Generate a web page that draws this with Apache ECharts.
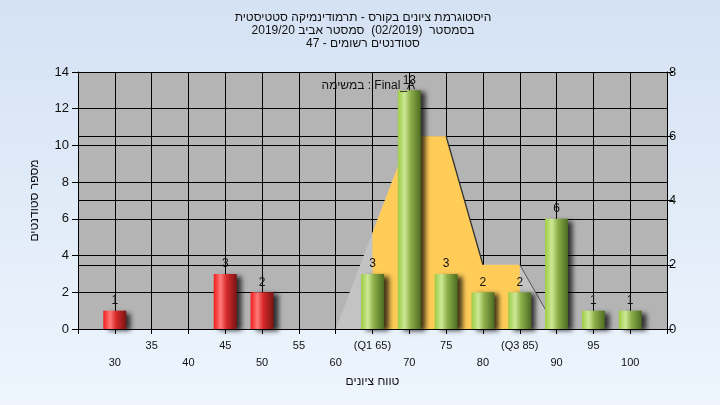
<!DOCTYPE html>
<html><head><meta charset="utf-8">
<script src="https://cdn.jsdelivr.net/npm/echarts@6/dist/echarts.min.js"></script>
<style>html,body{margin:0;padding:0;}#c{width:720px;height:405px;}</style>
</head><body><div id="c"></div>
<script>
const titleLines = ['היסטוגרמת ציונים בקורס - תרמודינמיקה סטטיסטית', 'בסמסטר  (02/2019)  סמסטר אביב 2019/20', 'סטודנטים רשומים - 47'];
const taskLabel = 'במשימה : Final_A';
const yAxisTitle = 'מספר סטודנטים';
const xAxisTitle = 'טווח ציונים';
const grades = [30, 45, 50, 65, 70, 75, 80, 85, 90, 95, 100];
const counts = [1, 3, 2, 3, 13, 3, 2, 2, 6, 1, 1];
const failBelow = 55;
const xTickValues = [30, 35, 40, 45, 50, 55, 60, 65, 70, 75, 80, 85, 90, 95, 100];
const xTickLabels = ['30', '35', '40', '45', '50', '55', '60', '(Q1 65)', '70', '75', '80', '(Q3 85)', '90', '95', '100'];
const boxGrades = [60, 65, 70, 75, 80, 85, 90];
const boxValues = [0, 3, 6, 6, 2, 2, 0];
const q1 = 65, q3 = 85;

const FONT = '"Liberation Sans", Arial, sans-serif';
function grad(stops) {
  return {type: 'linear', x: 0, y: 0, x2: 1, y2: 0, colorStops: stops.map(s => ({offset: s[0], color: s[1]}))};
}
const redGrad = grad([[0, '#f01c1c'], [0.3, '#ff7a7a'], [0.55, '#d82a2a'], [1, '#7a1414']]);
const greenGrad = grad([[0, '#9ccc44'], [0.3, '#cde895'], [0.55, '#8db04a'], [1, '#4d6b22']]);

const barData = grades.map((g, i) => ({
  value: [g, counts[i]],
  itemStyle: {color: g < failBelow ? redGrad : greenGrad}
}));
const fullArea = boxGrades.map((g, i) => [g, boxValues[i]]);
const iqrArea = boxGrades.map((g, i) => [g, boxValues[i]]).filter(p => p[0] >= q1 && p[0] <= q3);

const edgeSeries = [];
for (let i = 0; i < boxGrades.length - 1; i++) {
  if (boxValues[i + 1] < boxValues[i]) {
    edgeSeries.push({
      type: 'line', yAxisIndex: 1, symbol: 'none', silent: true, z: 3,
      data: [[boxGrades[i], boxValues[i]], [boxGrades[i + 1], boxValues[i + 1]]],
      lineStyle: {color: boxGrades[i] >= q3 ? '#555' : '#333', width: boxGrades[i] >= q3 ? 1 : 1.3}
    });
  }
}

const titleGraphics = titleLines.map((t, i) => ({
  type: 'text', x: 363, y: 18 + i * 13,
  style: {text: t, font: '12px ' + FONT, fill: '#111', align: 'center', verticalAlign: 'middle'}
}));

const chart = echarts.init(document.getElementById('c'));
chart.setOption({
  animation: false,
  backgroundColor: {type: 'linear', x: 0, y: 0, x2: 0, y2: 1, colorStops: [{offset: 0, color: '#d4e2f4'}, {offset: 1, color: '#eef5fd'}]},
  textStyle: {fontFamily: FONT},
  graphic: titleGraphics.concat([
    {type: 'text', x: 415, y: 86, z: 100, style: {text: taskLabel, font: '12px ' + FONT, fill: '#111', align: 'right', verticalAlign: 'middle'}}
  ]),
  grid: {left: 78, right: 53, top: 72, bottom: 76, show: true, backgroundColor: '#b4b4b4', borderWidth: 0},
  xAxis: {
    type: 'value', min: 25, max: 105, interval: 5,
    name: xAxisTitle, nameLocation: 'middle', nameGap: 45,
    nameTextStyle: {color: '#111', fontSize: 12, fontFamily: FONT},
    axisLine: {show: true, lineStyle: {color: '#000', width: 1}},
    axisTick: {show: true, length: 5, lineStyle: {color: '#000'}},
    splitLine: {show: true, lineStyle: {color: '#000', width: 1}},
    axisLabel: {
      color: '#111', fontSize: 11, fontFamily: FONT, margin: 8, lineHeight: 17,
      formatter: function (v) {
        const i = xTickValues.indexOf(v);
        if (i < 0) return '';
        return (i % 2 === 0 ? '\n' : '') + xTickLabels[i];
      }
    }
  },
  yAxis: [
    {
      type: 'value', min: 0, max: 14, interval: 2, position: 'left',
      name: yAxisTitle, nameLocation: 'middle', nameGap: 37, nameRotate: 90,
      nameTextStyle: {color: '#111', fontSize: 12, fontFamily: FONT},
      axisLine: {show: true, lineStyle: {color: '#000'}},
      axisTick: {show: true, length: 6, lineStyle: {color: '#000'}},
      splitLine: {show: true, lineStyle: {color: '#000', width: 1}},
      axisLabel: {color: '#111', fontSize: 13, fontFamily: FONT, margin: 9}
    },
    {
      type: 'value', min: 0, max: 8, interval: 2, position: 'right',
      axisLine: {show: true, lineStyle: {color: '#000'}},
      axisTick: {show: true, length: 6, lineStyle: {color: '#000'}},
      splitLine: {show: true, lineStyle: {color: '#000', width: 1}},
      axisLabel: {color: '#111', fontSize: 13, fontFamily: FONT, margin: 2}
    }
  ],
  series: [
    {
      type: 'line', yAxisIndex: 1, symbol: 'none', silent: true, z: 1,
      data: fullArea, lineStyle: {width: 0},
      areaStyle: {color: '#c3c3c3', opacity: 1}
    },
    {
      type: 'line', yAxisIndex: 1, symbol: 'none', silent: true, z: 2,
      data: iqrArea, lineStyle: {width: 0},
      areaStyle: {color: '#ffcc58', opacity: 1}
    }
  ].concat(edgeSeries).concat([
    {
      type: 'bar', yAxisIndex: 0, barWidth: 23, z: 5,
      data: barData,
      itemStyle: {shadowColor: 'rgba(0,0,0,0.75)', shadowBlur: 5, shadowOffsetX: 5, shadowOffsetY: 2},
      label: {show: true, position: 'top', distance: 4, color: '#111', fontSize: 12, fontFamily: FONT,
        formatter: p => p.value[1]}
    }
  ])
});
</script>
</body></html>
